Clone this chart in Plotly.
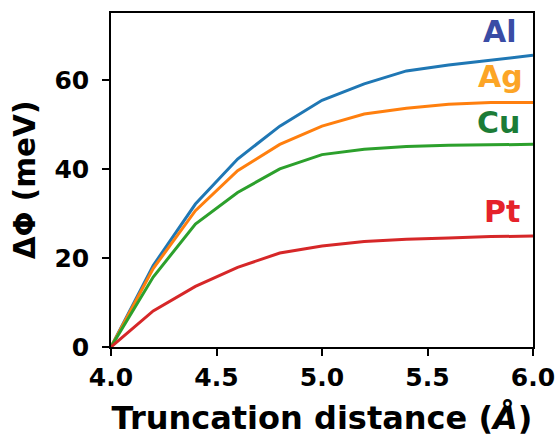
import plotly.graph_objects as go

x_vals = [4.0, 4.2, 4.4, 4.6, 4.8, 5.0, 5.2, 5.4, 5.6, 5.8, 6.0]
al = [0.0, 18.3, 32.1, 42.2, 49.6, 55.4, 59.1, 62.0, 63.3, 64.4, 65.5]
ag = [0.0, 17.6, 30.6, 39.6, 45.5, 49.6, 52.3, 53.6, 54.5, 54.9, 54.9]
cu = [0.0, 15.7, 27.6, 34.7, 40.0, 43.2, 44.4, 45.0, 45.3, 45.4, 45.5]
pt = [0.0, 8.1, 13.6, 17.9, 21.1, 22.7, 23.7, 24.2, 24.5, 24.8, 24.9]

names = ["Al", "Ag", "Cu", "Pt"]
series = [al, ag, cu, pt]
line_colors = ["#1f77b4", "#ff7f0e", "#2ca02c", "#d62728"]
label_colors = ["#3a4ca5", "#fca526", "#1b7c37", "#e5222b"]
label_x = [5.845, 5.845, 5.835, 5.855]
label_y = [70.9, 60.8, 50.4, 30.4]

x_ticks = [4.0, 4.5, 5.0, 5.5, 6.0]
y_ticks = [0, 20, 40, 60]

FONT = "DejaVu Sans"

fig = go.Figure()
for n, s, c in zip(names, series, line_colors):
    fig.add_trace(go.Scatter(x=x_vals, y=s, mode="lines", name=n,
                             line=dict(color=c, width=3), showlegend=False))

for n, lx, ly, c in zip(names, label_x, label_y, label_colors):
    fig.add_annotation(x=lx, y=ly, xref="x", yref="y", text=f"<b>{n}</b>",
                       showarrow=False, font=dict(family=FONT, size=30, color=c))

axis_common = dict(showline=True, linecolor="black", linewidth=1.6, mirror=True,
                   ticks="outside", ticklen=7, tickwidth=1.6, tickcolor="black",
                   showgrid=False, zeroline=False, automargin=False,
                   tickfont=dict(family=FONT, size=25, color="black"))

fig.update_xaxes(range=[4.0, 6.0], tickvals=x_ticks,
                 ticktext=[f"<b>{t:.1f}</b>" for t in x_ticks],
                 title=dict(text="<b>Truncation distance (<i>Å</i>)</b>",
                            font=dict(family=FONT, size=32, color="black"), standoff=16),
                 **axis_common)
fig.update_yaxes(range=[0, 75], tickvals=y_ticks,
                 ticktext=[f"<b>{t}</b>" for t in y_ticks],
                 ticklabelstandoff=8,
                 title=dict(text="<b>ΔΦ (meV)</b>",
                            font=dict(family=FONT, size=29.5, color="black"), standoff=10),
                 **axis_common)

fig.update_layout(width=558, height=437, plot_bgcolor="white", paper_bgcolor="white",
                  margin=dict(l=111, r=25, t=13, b=90))

fig.write_html("out.html", config={"displayModeBar": False},
               post_script="document.body.style.margin='0';document.body.style.overflow='hidden';")
